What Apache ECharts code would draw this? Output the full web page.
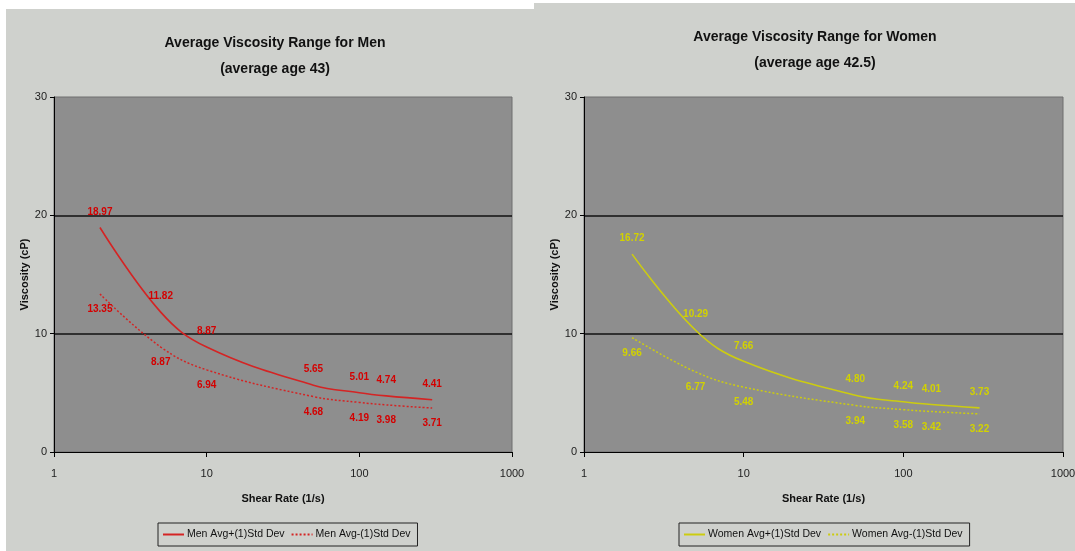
<!DOCTYPE html>
<html>
<head>
<meta charset="utf-8">
<title>Average Viscosity Range</title>
<script src="https://cdn.jsdelivr.net/npm/echarts@6/dist/echarts.min.js"></script>
<style>
  html, body { margin: 0; padding: 0; background: #ffffff; width: 1075px; height: 551px; overflow: hidden; }
  .panel { position: absolute; }
</style>
</head>
<body>
<div id="men" class="panel" style="left:6px;top:9px;width:528px;height:542px;"></div>
<div id="women" class="panel" style="left:534px;top:3px;width:541px;height:548px;"></div>
<script>
// Shear rates (1/s) at which viscosity was measured
const shearRates = [2, 5, 10, 50, 100, 150, 300];

// Men: average +/- one standard deviation (cP)
const menPlus  = [18.97, 11.82, 8.87, 5.65, 5.01, 4.74, 4.41];
const menMinus = [13.35, 8.87, 6.94, 4.68, 4.19, 3.98, 3.71];

// Women: average +/- one standard deviation (cP)
const womenPlus  = [16.72, 10.29, 7.66, 4.80, 4.24, 4.01, 3.73];
const womenMinus = [9.66, 6.77, 5.48, 3.94, 3.58, 3.42, 3.22];

const yTicks = [0, 10, 20, 30];
const xTicks = [1, 10, 100, 1000];

const FONT = "'Liberation Sans', Arial, sans-serif";
const CLEAR = 'rgba(0,0,0,0)';

function pairs(xs, ys) {
  return xs.map((x, i) => [x, ys[i]]);
}

function lineSeries(name, xs, ys, color, labelColor, dashed) {
  return {
    name: name,
    type: 'line',
    data: pairs(xs, ys),
    smooth: 0.4,
    // invisible markers that anchor the value labels
    symbol: 'circle',
    symbolSize: 1,
    showSymbol: true,
    itemStyle: { color: CLEAR, borderWidth: 0 },
    lineStyle: { color: color, width: dashed ? 1.5 : 1.6, type: dashed ? [2, 2] : 'solid' },
    emphasis: { disabled: true },
    label: {
      show: true,
      position: dashed ? 'bottom' : 'top',
      distance: 10,
      fontFamily: FONT, fontSize: 10, fontWeight: 'bold', color: labelColor,
      formatter: d => d.value[1].toFixed(2)
    }
  };
}

function buildOption(p) {
  return {
    backgroundColor: '#cfd1cd',
    animation: false,
    title: {
      text: p.title + '\n' + p.subtitle,
      left: p.titleX,
      textAlign: 'center',
      top: 16,
      textStyle: { fontFamily: FONT, fontSize: 14, fontWeight: 'bold', color: '#111', lineHeight: 26 }
    },
    grid: Object.assign({
      show: true, backgroundColor: '#8e8e8e', borderColor: '#6e6e6e', borderWidth: 1,
      outerBoundsMode: 'none', containLabel: false
    }, p.grid),
    legend: {
      left: p.legendLeft,
      top: p.legendTop,
      orient: 'horizontal',
      borderColor: '#222',
      borderWidth: 1,
      padding: [6, 7, 6, 4],
      itemGap: 6,
      itemWidth: 21,
      itemHeight: 10,
      itemStyle: { opacity: 0 },
      textStyle: { fontFamily: FONT, fontSize: 10.5, color: '#111', padding: [0, 0, 0, -2] },
      data: [p.names[0], p.names[1]]
    },
    xAxis: {
      type: 'log',
      logBase: 10,
      min: xTicks[0],
      max: xTicks[xTicks.length - 1],
      name: 'Shear Rate (1/s)',
      nameLocation: 'middle',
      nameGap: 41,
      nameMoveOverlap: false,
      nameTextStyle: { fontFamily: FONT, fontSize: 11, fontWeight: 'bold', color: '#111' },
      axisLine: { show: true, lineStyle: { color: '#000', width: 1 } },
      axisTick: { show: true, inside: false, length: 5, lineStyle: { color: '#000' } },
      minorTick: { show: false },
      axisLabel: { fontFamily: FONT, fontSize: 11, color: '#222', margin: 16,
                   formatter: v => String(Math.round(v)) },
      splitLine: { show: false }
    },
    yAxis: {
      type: 'value',
      min: yTicks[0],
      max: yTicks[yTicks.length - 1],
      interval: 10,
      name: 'Viscosity (cP)',
      nameLocation: 'middle',
      nameGap: 24,
      nameMoveOverlap: false,
      nameTextStyle: { fontFamily: FONT, fontSize: 11, fontWeight: 'bold', color: '#111' },
      axisLine: { show: true, lineStyle: { color: '#000', width: 1 } },
      axisTick: { show: true, inside: false, length: 4, lineStyle: { color: '#000' } },
      axisLabel: { fontFamily: FONT, fontSize: 11, color: '#222', margin: 7 },
      splitLine: { show: true, showMinLine: false, showMaxLine: false, lineStyle: { color: '#111', width: 1.6 } }
    },
    series: [
      lineSeries(p.names[0], shearRates, p.plus, p.lineColor, p.labelColor, false),
      lineSeries(p.names[1], shearRates, p.minus, p.lineColor, p.labelColor, true)
    ]
  };
}

const menChart = echarts.init(document.getElementById('men'), null, { renderer: 'canvas' });
menChart.setOption(buildOption({
  title: 'Average Viscosity Range for Men',
  subtitle: '(average age 43)',
  titleX: 264,
  grid: { left: 48, top: 88, right: 22, bottom: 99 },
  legendLeft: 152,
  legendTop: 514,
  names: ['Men Avg+(1)Std Dev', 'Men Avg-(1)Std Dev'],
  plus: menPlus,
  minus: menMinus,
  lineColor: '#d42424',
  labelColor: '#d40000'
}));

const womenChart = echarts.init(document.getElementById('women'), null, { renderer: 'canvas' });
womenChart.setOption(buildOption({
  title: 'Average Viscosity Range for Women',
  subtitle: '(average age 42.5)',
  titleX: 276,
  grid: { left: 50, top: 94, right: 12, bottom: 99 },
  legendLeft: 145,
  legendTop: 520,
  names: ['Women Avg+(1)Std Dev', 'Women Avg-(1)Std Dev'],
  plus: womenPlus,
  minus: womenMinus,
  lineColor: '#cccc10',
  labelColor: '#d2d200'
}));
</script>
</body>
</html>
